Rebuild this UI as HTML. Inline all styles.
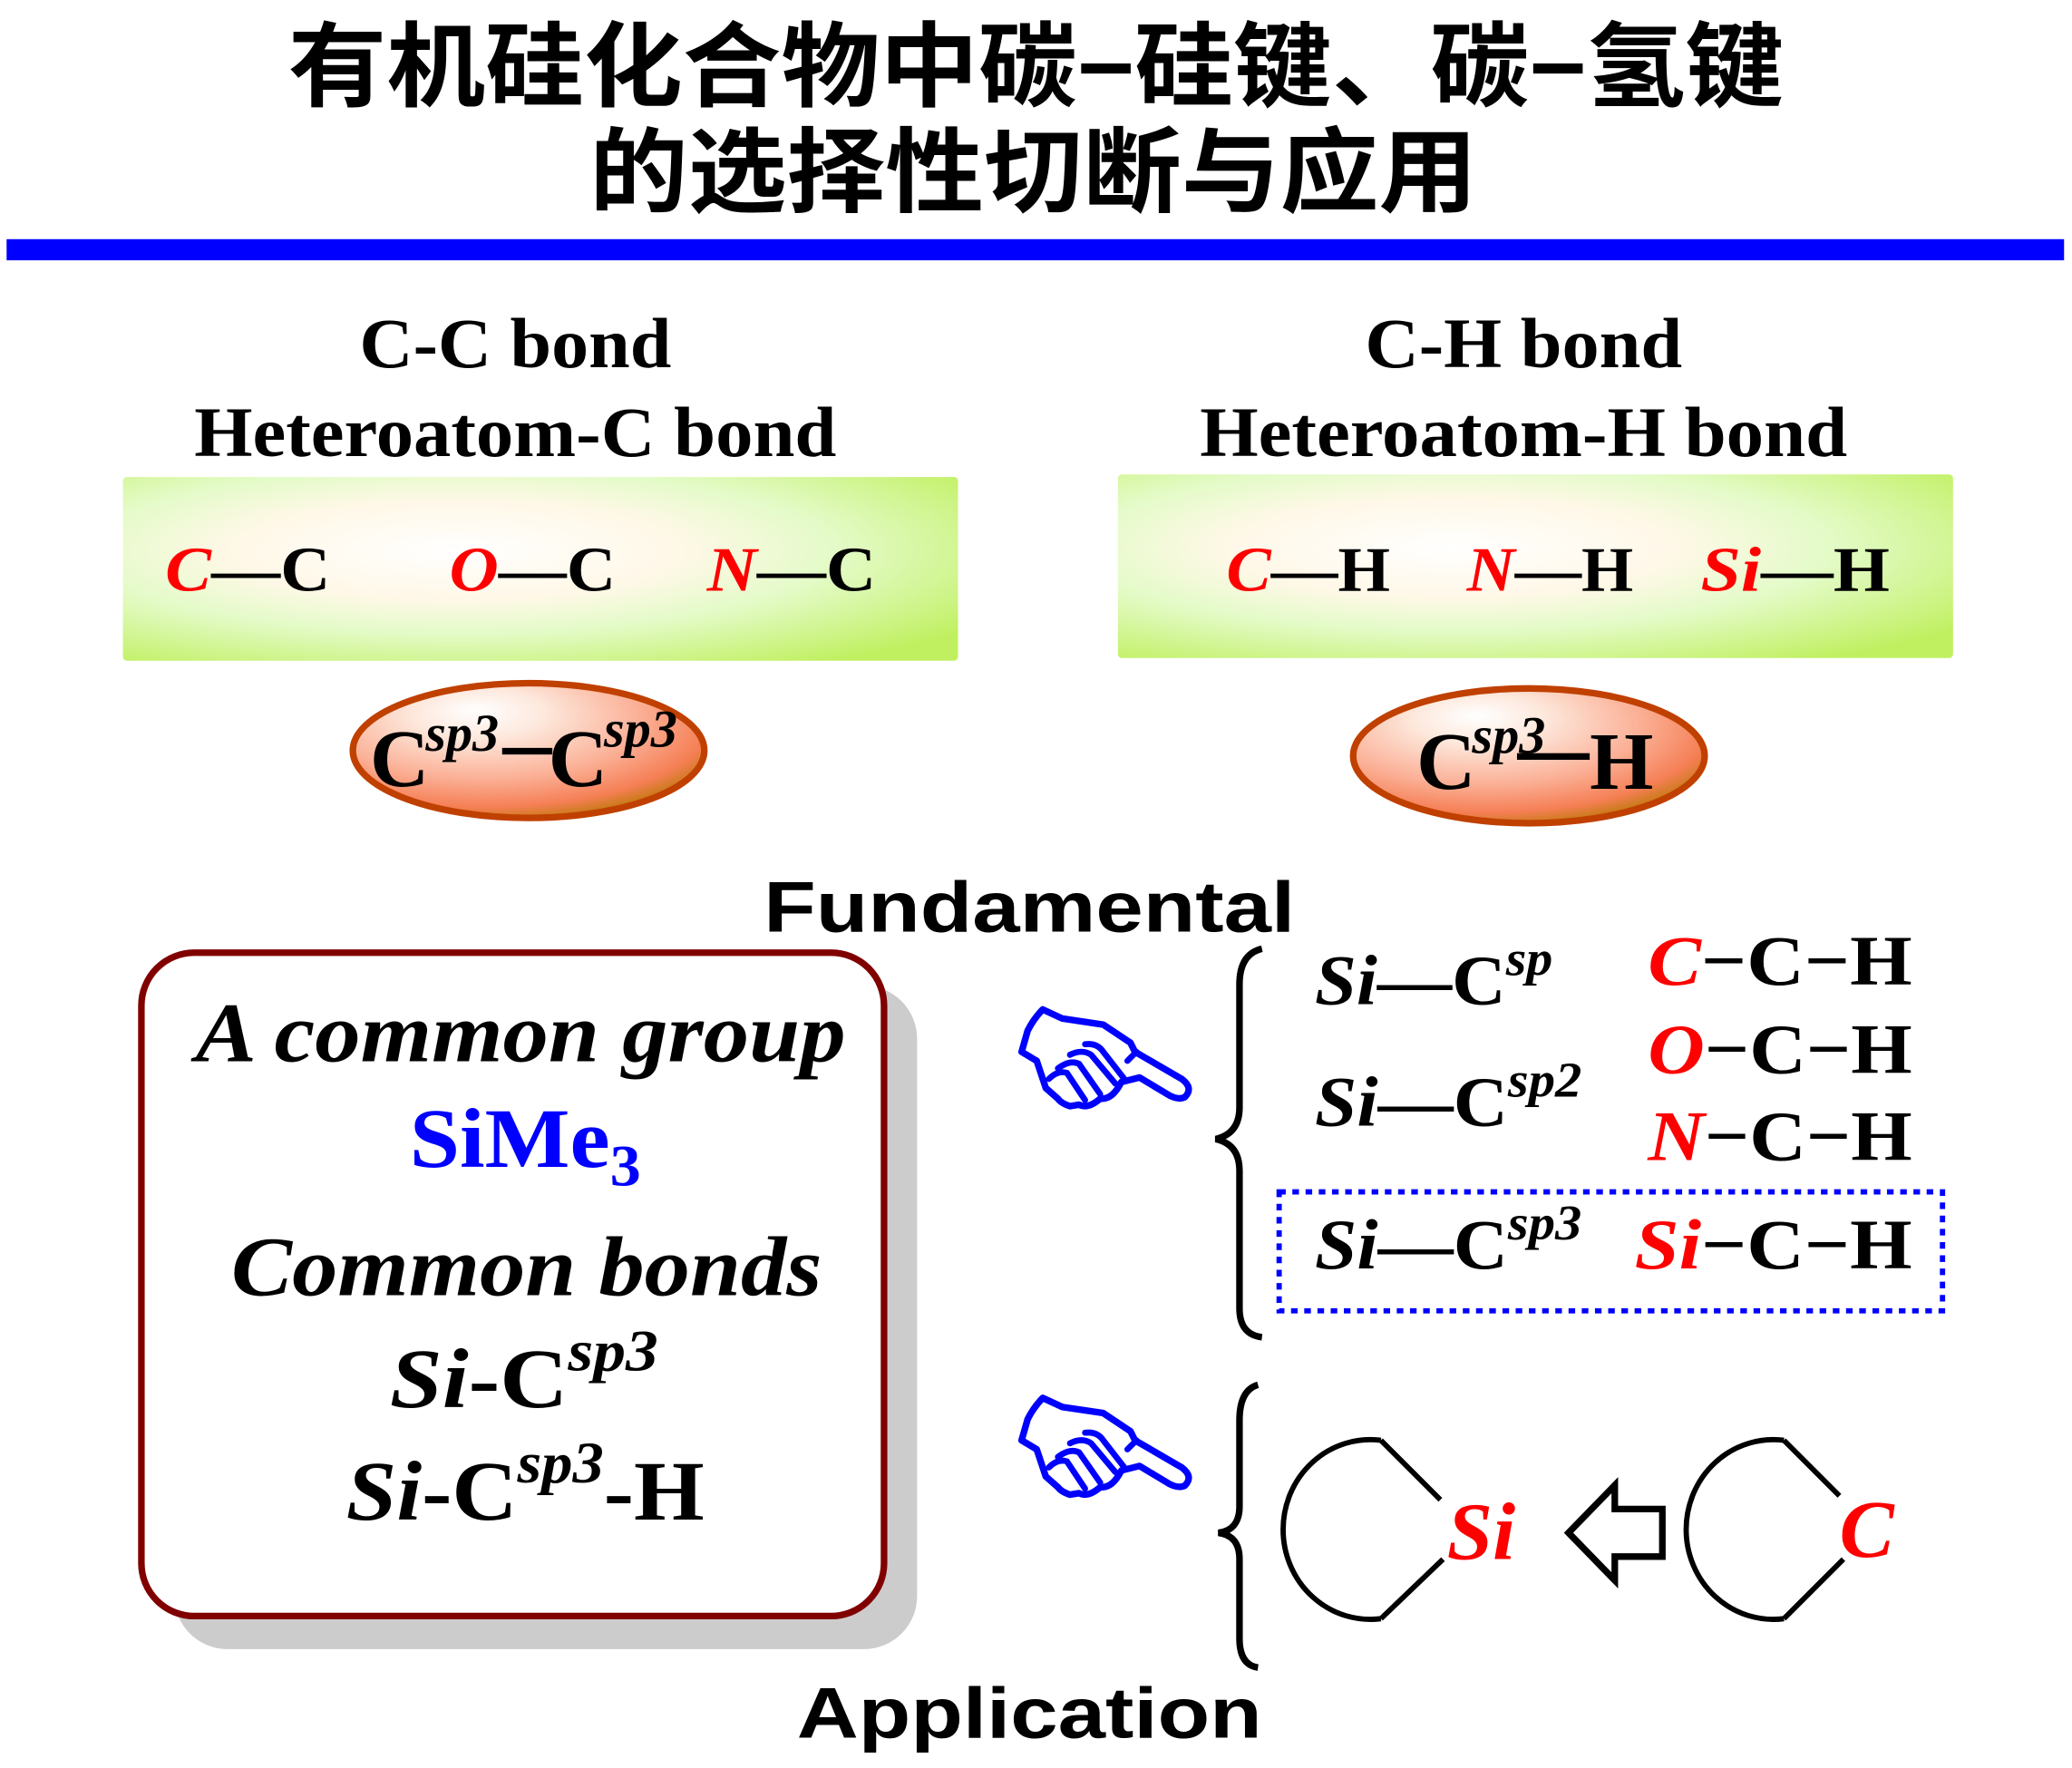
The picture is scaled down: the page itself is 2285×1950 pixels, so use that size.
<!DOCTYPE html>
<html><head><meta charset="utf-8"><style>
html,body{margin:0;padding:0;background:#fff;}
svg{display:block;}
.s{font-family:"Liberation Serif",serif;font-weight:bold;}
.cj{font-family:"Liberation Sans","Noto Sans CJK SC",sans-serif;font-weight:bold;}
.sa{font-family:"Liberation Sans",sans-serif;font-weight:bold;}
</style></head><body>
<svg width="2285" height="1950" viewBox="0 0 1568 1338" preserveAspectRatio="none" xmlns="http://www.w3.org/2000/svg">
<defs>
<radialGradient id="gg" cx="0.4" cy="0.4" r="0.75">
<stop offset="0" stop-color="#ffffff"/><stop offset="0.35" stop-color="#fff8e8"/><stop offset="0.6" stop-color="#e4fbc8"/><stop offset="1" stop-color="#c0f060"/>
</radialGradient>
<radialGradient id="eg" cx="0.38" cy="0.3" r="0.75" fx="0.35" fy="0.2">
<stop offset="0" stop-color="#ffffff"/><stop offset="0.25" stop-color="#fde8dc"/><stop offset="0.6" stop-color="#fbb096"/><stop offset="0.85" stop-color="#f57f55"/><stop offset="1" stop-color="#b87800"/>
</radialGradient>
<g id="hand">
<path d="M80,240 L100,170 Q120,130 150,100 L215,130 L350,150 L440,210 L455,240 L610,330 Q650,360 620,390 Q600,400 570,385 L470,325 L410,340 Q380,400 340,395 Q300,430 270,415 L240,420 Q210,410 200,395 L160,360 L130,270 Z" fill="#fff" stroke="#0000ff" stroke-width="22" stroke-linejoin="round"/>
<path d="M170,330 Q200,300 230,310 L290,400 M200,295 Q240,265 270,280 L340,380 M240,250 Q280,230 310,250 L390,345 M290,215 Q330,210 350,240 L420,330 M430,270 L460,240" fill="none" stroke="#0000ff" stroke-width="20" stroke-linecap="round"/>
</g>
</defs>
<text x="218" y="75" class="cj" font-size="70" textLength="1132" lengthAdjust="spacingAndGlyphs">有机硅化合物中碳−硅键、碳−氢键</text>
<text x="446" y="155" class="cj" font-size="70" textLength="672" lengthAdjust="spacingAndGlyphs">的选择性切断与应用</text>
<rect x="5" y="181" width="1557" height="16" fill="#0000ff"/>

<text x="272" y="278" class="s" font-size="54" textLength="236" lengthAdjust="spacingAndGlyphs">C-C bond</text>
<text x="147" y="345" class="s" font-size="54" textLength="486" lengthAdjust="spacingAndGlyphs">Heteroatom-C bond</text>
<text x="1033" y="278" class="s" font-size="54" textLength="240" lengthAdjust="spacingAndGlyphs">C-H bond</text>
<text x="908" y="345" class="s" font-size="54" textLength="490" lengthAdjust="spacingAndGlyphs">Heteroatom-H bond</text>

<rect x="93" y="361" width="632" height="139" fill="url(#gg)" rx="3"/>
<rect x="846" y="359" width="632" height="139" fill="url(#gg)" rx="3"/>
<g class="s" font-size="48">
<text x="125" y="447" textLength="125" lengthAdjust="spacingAndGlyphs"><tspan fill="#f00" font-style="italic">C</tspan>—C</text>
<text x="340" y="447" textLength="126" lengthAdjust="spacingAndGlyphs"><tspan fill="#f00" font-style="italic">O</tspan>—C</text>
<text x="535" y="447" textLength="128" lengthAdjust="spacingAndGlyphs"><tspan fill="#f00" font-style="italic">N</tspan>—C</text>
<text x="928" y="447" textLength="124" lengthAdjust="spacingAndGlyphs"><tspan fill="#f00" font-style="italic">C</tspan>—H</text>
<text x="1110" y="447" textLength="126" lengthAdjust="spacingAndGlyphs"><tspan fill="#f00" font-style="italic">N</tspan>—H</text>
<text x="1287" y="447" textLength="143" lengthAdjust="spacingAndGlyphs"><tspan fill="#f00" font-style="italic">Si</tspan>—H</text>
</g>

<ellipse cx="400" cy="568" rx="133" ry="51" fill="url(#eg)" stroke="#c04000" stroke-width="5"/>
<ellipse cx="1157" cy="572" rx="133" ry="51" fill="url(#eg)" stroke="#c04000" stroke-width="5"/>
<g class="s">
<text x="280" y="595" font-size="62">C</text><text x="322" y="568" font-size="40" font-style="italic">sp3</text>
<rect x="380" y="566" width="38" height="5" fill="#000"/>
<text x="415" y="595" font-size="62">C</text><text x="457" y="565" font-size="40" font-style="italic">sp3</text>
<text x="1072" y="597" font-size="62">C</text><text x="1114" y="570" font-size="40" font-style="italic">sp3</text>
<rect x="1148" y="570" width="55" height="5" fill="#000"/>
<text x="1203" y="597" font-size="62">H</text>
</g>

<text x="578" y="705" class="sa" font-size="54" textLength="402" lengthAdjust="spacingAndGlyphs">Fundamental</text>

<rect x="132" y="746" width="562" height="502" rx="40" fill="#cccccc"/>
<rect x="107" y="721" width="562" height="502" rx="40" fill="#fff" stroke="#800000" stroke-width="5"/>
<g class="s" font-size="64">
<text x="148" y="803" font-style="italic" textLength="492" lengthAdjust="spacingAndGlyphs">A common group</text>
<text x="310" y="883" fill="#0000ff" textLength="175" lengthAdjust="spacingAndGlyphs">SiMe<tspan font-size="44" dy="14">3</tspan></text>
<text x="175" y="980" font-style="italic" textLength="447" lengthAdjust="spacingAndGlyphs">Common bonds</text>
<text x="295" y="1065" textLength="203" lengthAdjust="spacingAndGlyphs"><tspan font-style="italic">Si</tspan>-C<tspan font-size="44" dy="-28" font-style="italic">sp3</tspan></text>
<text x="262" y="1150" textLength="271" lengthAdjust="spacingAndGlyphs"><tspan font-style="italic">Si</tspan>-C<tspan font-size="44" dy="-28" font-style="italic">sp3</tspan><tspan dy="28">-H</tspan></text>
</g>

<use href="#hand" transform="scale(0.6862) translate(1100,1080) scale(0.3333)"/>
<use href="#hand" transform="translate(0,294) scale(0.6862) translate(1100,1080) scale(0.3333)"/>

<path d="M955,718 Q938,722 938,745 L938,838 Q938,858 920,862 Q938,866 938,886 L938,990 Q938,1010 955,1012" fill="none" stroke="#000" stroke-width="5"/>
<path d="M952,1048 Q938,1052 938,1075 L938,1140 Q938,1158 922,1160 Q938,1162 938,1180 L938,1240 Q938,1260 952,1262" fill="none" stroke="#000" stroke-width="5"/>

<g class="s" font-size="54">
<text x="995" y="760" textLength="180" lengthAdjust="spacingAndGlyphs"><tspan font-style="italic">Si</tspan>—C<tspan font-size="38" dy="-22" font-style="italic">sp</tspan></text>
<text x="995" y="852" textLength="202" lengthAdjust="spacingAndGlyphs"><tspan font-style="italic">Si</tspan>—C<tspan font-size="38" dy="-22" font-style="italic">sp2</tspan></text>
<text x="995" y="960" textLength="202" lengthAdjust="spacingAndGlyphs"><tspan font-style="italic">Si</tspan>—C<tspan font-size="38" dy="-22" font-style="italic">sp3</tspan></text>
<text x="1247" y="745" textLength="200" lengthAdjust="spacingAndGlyphs"><tspan fill="#f00" font-style="italic">C</tspan>−C−H</text>
<text x="1247" y="812" textLength="200" lengthAdjust="spacingAndGlyphs"><tspan fill="#f00" font-style="italic">O</tspan>−C−H</text>
<text x="1247" y="878" textLength="200" lengthAdjust="spacingAndGlyphs"><tspan fill="#f00" font-style="italic">N</tspan>−C−H</text>
<text x="1237" y="960" textLength="210" lengthAdjust="spacingAndGlyphs"><tspan fill="#f00" font-style="italic">Si</tspan>−C−H</text>
</g>
<rect x="968" y="902" width="502" height="90" fill="none" stroke="#0000ff" stroke-width="4" stroke-dasharray="5,5"/>

<g fill="none" stroke="#000" stroke-width="4">
<path d="M1045,1090 A66,68 0 1 0 1045,1225"/>
<path d="M1045,1090 L1090,1135 M1045,1225 L1092,1180"/>
<path d="M1350,1090 A66,68 0 1 0 1350,1225"/>
<path d="M1350,1090 L1392,1132 M1350,1225 L1395,1180"/>
<path d="M1187,1160 L1222,1124 L1222,1142 L1258,1142 L1258,1178 L1222,1178 L1222,1196 Z" stroke-width="5" stroke-linejoin="miter"/>
</g>
<text x="1095" y="1180" class="s" font-size="62" font-style="italic" fill="#f00">Si</text>
<text x="1392" y="1178" class="s" font-size="62" font-style="italic" fill="#f00">C</text>

<text x="603" y="1315" class="sa" font-size="54" textLength="352" lengthAdjust="spacingAndGlyphs">Application</text>
</svg>
</body></html>
